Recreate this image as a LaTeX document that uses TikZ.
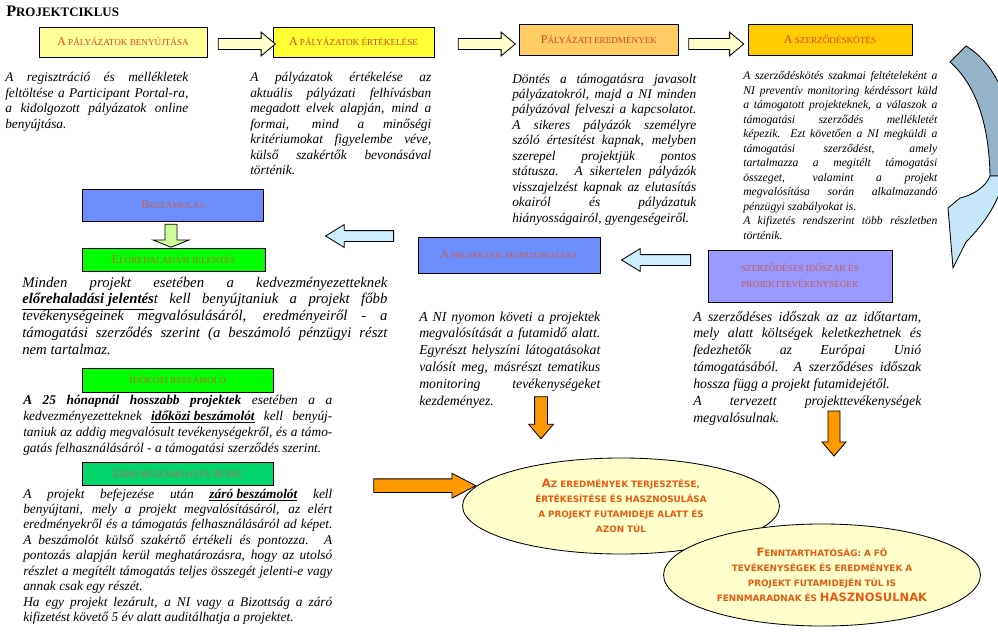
\documentclass[tikz,border=0pt]{standalone}
\usepackage{fontspec}
\setmainfont{Liberation Serif}
\newfontfamily\ovalfont{DejaVu Sans}
\usepackage{tikz}
\usetikzlibrary{shapes,shapes.geometric,shapes.arrows}

\definecolor{paleyellow}{RGB}{255,255,153}
\definecolor{brightyellow}{RGB}{255,255,51}
\definecolor{lightorange}{RGB}{255,204,102}
\definecolor{goldfill}{RGB}{255,204,0}
\definecolor{phaseblue}{RGB}{108,142,252}
\definecolor{phaselilac}{RGB}{153,153,255}
\definecolor{phasegreen}{RGB}{0,255,0}
\definecolor{phaseteal}{RGB}{0,212,106}
\definecolor{labelred}{RGB}{215,75,40}
\definecolor{labelpink}{RGB}{200,95,85}
\definecolor{labelbrown}{RGB}{180,110,40}
\definecolor{ovalorange}{RGB}{232,90,20}
\definecolor{creamfill}{RGB}{255,255,204}
\definecolor{arrowgreen}{RGB}{204,255,153}
\definecolor{arrowblue}{RGB}{204,236,255}
\definecolor{arroworange}{RGB}{255,153,0}
\definecolor{bandgray}{RGB}{150,180,200}
\definecolor{bandblue}{RGB}{198,230,250}

\hyphenpenalty=10000
\exhyphenpenalty=10000

\newcommand{\bodyfont}{\fontsize{9.5}{11}\selectfont\itshape}
\newcommand{\narrowfont}{\fontsize{8.3}{10.3}\selectfont\itshape}
\newcommand{\widefont}{\fontsize{9.8}{12}\selectfont\itshape}
\newcommand{\largefont}{\fontsize{10.5}{12}\selectfont\itshape}
\newcommand{\capslabel}[2]{{\fontsize{8.5}{10}\selectfont #1}{\fontsize{6.5}{10}\selectfont #2}}
\newcommand{\ovalbig}[1]{{\fontsize{8.2}{10.6}\selectfont #1}}

\begin{document}
\begin{tikzpicture} [x=0.025cm, y=-0.025cm,
				phase/.style={
				% The shape:
				rectangle,
				inner sep=0pt,
				% The border:
				draw=black, line width=0.6pt,
				% The text:
				align=center, text=labelred
				},
				body/.style={
				% The placement:
				anchor=base west,
				inner sep=0pt,
				% The text:
				align=justify, font=\bodyfont
				},
				blockarrow/.style={
				% The shape:
				single arrow,
				minimum width=0pt,
				inner xsep=0pt,
				% The border:
				draw=black, line width=0.6pt
				},
				oval/.style={
				% The shape:
				ellipse,
				inner sep=0pt,
				% The border:
				draw=black, line width=0.6pt,
				% The filling:
				fill=creamfill,
				% The text:
				text width=5.6cm, align=center, text=ovalorange,
				font=\ovalfont\bfseries\fontsize{6.3}{10.6}\selectfont
				},
				]
    \useasboundingbox (0,0) rectangle (998,637);

    % title
    \node [anchor=base west, inner sep=0pt, font=\bfseries] (title) at (6,17)
        {{\fontsize{11.5}{12}\selectfont P}{\fontsize{9.2}{12}\selectfont ROJEKTCIKLUS}};

    % first row: application
    \node [phase, fill=paleyellow, minimum width=4.2cm, minimum height=0.75cm] (benyujtas) at (123,42)
        {\capslabel{A}{ PÁLYÁZATOK BENYÚJTÁSA}};
    \node [phase, fill=brightyellow, minimum width=4.025cm, minimum height=0.75cm] (ertekeles) at (353.5,42)
        {\capslabel{A}{ PÁLYÁZATOK ÉRTÉKELÉSE}};
    \node [phase, fill=lightorange, minimum width=3.975cm, minimum height=0.775cm] (eredmenyek) at (599,39.5)
        {\capslabel{P}{ÁLYÁZATI EREDMÉNYEK}};
    \node [phase, fill=goldfill, minimum width=4.1cm, minimum height=0.775cm] (szerzodes) at (830,39.5)
        {\capslabel{A}{ SZERZŐDÉSKÖTÉS}};

    \tikzstyle{yellowarrow} = [blockarrow, fill=creamfill, inner ysep=0.125cm,
        single arrow head extend=0.16cm, single arrow tip angle=80]
    \node [yellowarrow, minimum height=1.425cm] (arrowA) at (243.5,44) {};
    \node [yellowarrow, minimum height=1.425cm] (arrowB) at (483.5,44) {};
    \node [yellowarrow, minimum height=1.375cm] (arrowC) at (713,44) {};

    \node [body, text width=4.575cm] (benyujtastext) at (5,82)
        {A regisztráció és mellékletek\linebreak feltöltése a Participant Portal-ra,\linebreak
        a kidolgozott pályázatok online\linebreak benyújtása.};
    \node [body, text width=4.525cm] (ertekelestext) at (250,82)
        {A pályázatok értékelése az\linebreak aktuális pályázati felhívásban\linebreak
        megadott elvek alapján, mind a\linebreak formai, mind a minőségi\linebreak
        kritériumokat figyelembe véve,\linebreak külső szakértők bevonásával\linebreak történik.};
    \node [body, text width=4.6cm] (eredmenyektext) at (512,83)
        {Döntés a támogatásra javasolt\linebreak pályázatokról, majd a NI minden\linebreak
        pályázóval felveszi a kapcsolatot.\linebreak A sikeres pályázók személyre\linebreak
        szóló értesítést kapnak, melyben\linebreak szerepel projektjük pontos\linebreak
        státusza. A sikertelen pályázók\linebreak visszajelzést kapnak az elutasítás\linebreak
        okairól és pályázatuk\linebreak hiányosságairól, gyengeségeiről.};
    \node [body, text width=4.85cm, font=\narrowfont] (szerzodestext) at (743,80)
        {A szerződéskötés szakmai feltételeként a\linebreak NI preventív monitoring kérdéssort küld\linebreak
        a támogatott projekteknek, a válaszok a\linebreak támogatási szerződés mellékletét\linebreak
        képezik. Ezt követően a NI megküldi a\linebreak támogatási szerződést, amely\linebreak
        tartalmazza a megitélt támogatási\linebreak összeget, valamint a projekt\linebreak
        megvalósítása során alkalmazandó\linebreak pénzügyi szabályokat is.\\
        A kifizetés rendszerint több részletben\linebreak történik.};

    % curved arrow on the right edge
    \begin{scope}
        \clip (0,0) rectangle (998,637);
        \filldraw [fill=bandgray, draw=black, line width=0.6pt]
            (950,62) -- (966,46) .. controls (982,56) and (994,70) .. (1004,95)
            -- (1004,176) -- (990,176) .. controls (989,122) and (975,84) .. (950,62) -- cycle;
        \filldraw [fill=bandblue, draw=black, line width=0.6pt]
            (990,176) .. controls (986,186) and (974,195) .. (960,198) -- (948,208)
            -- (953,268) -- (966,242) .. controls (986,222) and (1000,200) .. (1004,176) -- cycle;
    \end{scope}

    % second row: reporting and monitoring
    \node [phase, fill=phaseblue, text=labelpink, minimum width=4.525cm, minimum height=0.8cm] (beszamolas) at (173,205)
        {\capslabel{B}{ESZÁMOLÁS}};
    \node [blockarrow, fill=arrowgreen, rotate=-90, inner ysep=0.14cm, single arrow head extend=0.3cm,
        single arrow tip angle=136, minimum height=0.575cm] (arrowD) at (171,234.5) {};
    \node [phase, fill=phasegreen, text=labelbrown, minimum width=4.575cm, minimum height=0.575cm] (elorehaladas) at (173.5,259.5)
        {\capslabel{E}{LŐREHALADÁSI JELENTÉS}};

    \tikzstyle{bluearrow} = [blockarrow, fill=arrowblue, rotate=180, inner ysep=0.125cm,
        single arrow head extend=0.15cm, single arrow tip angle=63]
    \node [bluearrow, minimum height=1.7cm] (arrowE) at (364,236) {};
    \node [phase, fill=phaseblue, text=labelpink, minimum width=4.55cm, minimum height=0.9cm] (monitoring) at (509,255)
        {\capslabel{A}{ PROJEKTEK MONITOROZÁSA}};
    \node [bluearrow, minimum height=1.725cm] (arrowF) at (660.5,260) {};
    \node [phase, fill=phaselilac, text=labelpink, minimum width=4.6cm, minimum height=1.3cm,
        font=\fontsize{6.5}{11.4}\selectfont] (idoszak) at (800,276)
        {SZERZŐDÉSES IDŐSZAK ÉS\\PROJEKTTEVÉKENYSÉGEK};

    \node [body, text width=9.125cm, font=\largefont] (beszamolastext) at (22,287)
        {Minden projekt esetében a kedvezményezetteknek\linebreak
        \underline{\textbf{előrehaladási jelentés}}t kell benyújtaniuk a projekt főbb\linebreak
        tevékenységeinek megvalósulásáról, eredményeiről - a\linebreak
        támogatási szerződés szerint (a beszámoló pénzügyi részt\linebreak nem tartalmaz.};
    \node [body, text width=4.525cm, font=\widefont] (monitoringtext) at (419,321)
        {A NI nyomon követi a projektek\linebreak megvalósítását a futamidő alatt.\linebreak
        Egyrészt helyszíni látogatásokat\linebreak valósít meg, másrészt tematikus\linebreak
        monitoring tevékenységeket\linebreak kezdeményez.};
    \node [body, text width=5.7cm, font=\widefont] (idoszaktext) at (693,321)
        {A szerződéses időszak az az időtartam,\linebreak mely alatt költségek keletkezhetnek és\linebreak
        fedezhetők az Európai Unió\linebreak támogatásából. A szerződéses időszak\linebreak
        hossza függ a projekt futamidejétől.\\
        A tervezett projekttevékenységek\linebreak megvalósulnak.};

    % third row: interim and final reports
    \node [phase, fill=phasegreen, text=labelbrown, minimum width=4.775cm, minimum height=0.6cm] (idokozi) at (177.5,380)
        {\capslabel{I}{DŐKÖZI BESZÁMOLÓ}};
    \node [body, text width=7.725cm, font=\fontsize{9.5}{11.5}\selectfont\itshape] (idokozitext) at (23,404)
        {\textbf{A 25 hónapnál hosszabb projektek} esetében a a\linebreak
        kedvezményezetteknek \underline{\textbf{időközi beszámolót}} kell benyúj-\linebreak
        taniuk az addig megvalósult tevékenységekről, és a támo-\linebreak
        gatás felhasználásáról - a támogatási szerződés szerint.};
    \node [phase, fill=phaseteal, text=labelpink, minimum width=4.775cm, minimum height=0.575cm] (zaro) at (177.5,473.5)
        {\capslabel{Z}{ÁRÓ BESZÁMOLÓ ÉS }\capslabel{A}{UDIT}};
    \node [body, text width=7.725cm] (zarotext) at (23,498)
        {A projekt befejezése után \underline{\textbf{záró beszámolót}} kell\linebreak
        benyújtani, mely a projekt megvalósításáról, az elért\linebreak
        eredményekről és a támogatás felhasználásáról ad képet.\linebreak
        A beszámolót külső szakértő értékeli és pontozza. A\linebreak
        pontozás alapján kerül meghatározásra, hogy az utolsó\linebreak
        részlet a megítélt támogatás teljes összegét jelenti-e vagy\linebreak
        annak csak egy részét.\\
        Ha egy projekt lezárult, a NI vagy a Bizottság a záró\linebreak
        kifizetést követő 5 év alatt auditálhatja a projektet.};

    % results
    \tikzstyle{orangearrow} = [blockarrow, fill=arroworange, single arrow head extend=0.15cm]
    \node [orangearrow, rotate=-90, inner ysep=0.15cm, single arrow tip angle=81, minimum height=1.05cm] (arrowH) at (541,414) {};
    \node [orangearrow, rotate=-90, inner ysep=0.14cm, single arrow tip angle=81, minimum height=1.125cm] (arrowI) at (834,430) {};
    \node [oval, minimum width=7.45cm, minimum height=2.4cm] (terjesztes) at (621,506)
        {\ovalbig{A}Z EREDMÉNYEK TERJESZTÉSE,\\ÉRTÉKESÍTÉSE ÉS HASZNOSULÁSA\\A PROJEKT FUTAMIDEJE ALATT ÉS\\AZON TÚL};
    \node [orangearrow, inner ysep=0.16cm, single arrow head extend=0.14cm, single arrow tip angle=55,
        minimum height=2.55cm, anchor=tip] (arrowG) at (terjesztes.172) {};
    \node [oval, minimum width=7.6cm, minimum height=2.55cm] (fenntarthatosag) at (822,575)
        {\ovalbig{F}ENNTARTHATÓSÁG: A FŐ\\TEVÉKENYSÉGEK ÉS EREDMÉNYEK A\\PROJEKT FUTAMIDEJÉN TÚL IS\\FENNMARADNAK ÉS \ovalbig{HASZNOSULNAK}};
\end{tikzpicture}
\end{document}
